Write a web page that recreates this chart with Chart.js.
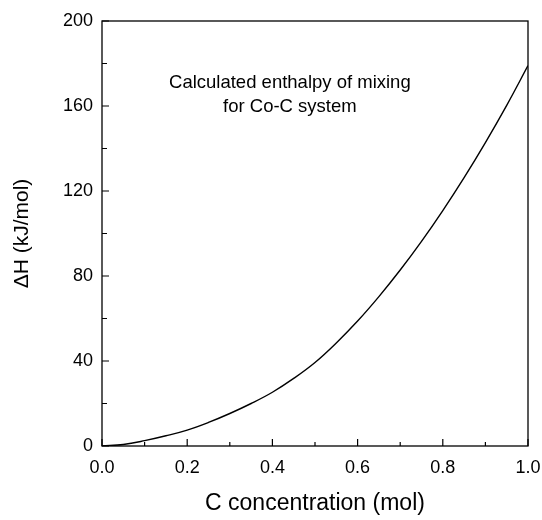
<!DOCTYPE html>
<html>
<head>
<meta charset="utf-8">
<script src="https://cdn.jsdelivr.net/npm/chart.js@4.4.1/dist/chart.umd.min.js"></script>
<style>
  html, body { margin: 0; padding: 0; background: #fff; }
  #wrap { width: 542px; height: 520px; }
</style>
</head>
<body>
<div id="wrap"><canvas id="grafico" width="542" height="520"></canvas></div>
<script>
// concentração de C (mol) e entalpia de mistura (kJ/mol)
const concentracao = [0, 0.05, 0.1, 0.15, 0.2, 0.25, 0.3, 0.35, 0.4, 0.45, 0.5,
    0.55, 0.6, 0.65, 0.7, 0.75, 0.8, 0.85, 0.9, 0.95, 1.0];
const entalpia = [0, 0.7, 2.5, 4.8, 7.5, 11.1, 15.3, 20, 25.3, 31.8, 39.3,
    48.5, 58.8, 70.3, 82.8, 96.3, 110.8, 126.3, 142.8, 160.3, 179];

const ticksX = [0, 0.2, 0.4, 0.6, 0.8, 1.0];
const ticksY = [0, 40, 80, 120, 160, 200];
const ticksMenoresX = [0.1, 0.3, 0.5, 0.7, 0.9];
const ticksMenoresY = [20, 60, 100, 140, 180];

const anotacao = ['Calculated enthalpy of mixing', 'for Co-C system'];
const anotacaoX = 0.441;
const anotacaoY = [171, 159.5];

const fonte = '"Liberation Sans", Arial, sans-serif';

//desenha moldura, ticks para dentro e o texto
const molduraPlugin = {
    id: 'moldura',
    afterDraw(chart) {
        const ctx = chart.ctx;
        const a = chart.chartArea;
        const sx = chart.scales.x;
        const sy = chart.scales.y;
        ctx.save();
        ctx.strokeStyle = '#000';
        ctx.lineWidth = 1.3;
        ctx.strokeRect(a.left, a.top, a.right - a.left, a.bottom - a.top);

        ctx.lineWidth = 1.2;
        ctx.beginPath();
        ticksX.forEach(v => {
            const px = sx.getPixelForValue(v);
            ctx.moveTo(px, a.bottom); ctx.lineTo(px, a.bottom - 7);
        });
        ticksMenoresX.forEach(v => {
            const px = sx.getPixelForValue(v);
            ctx.moveTo(px, a.bottom); ctx.lineTo(px, a.bottom - 4);
        });
        ticksY.forEach(v => {
            const py = sy.getPixelForValue(v);
            ctx.moveTo(a.left, py); ctx.lineTo(a.left + 7, py);
        });
        ticksMenoresY.forEach(v => {
            const py = sy.getPixelForValue(v);
            ctx.moveTo(a.left, py); ctx.lineTo(a.left + 5, py);
        });
        ctx.stroke();

        ctx.fillStyle = '#000';
        ctx.font = '18.5px ' + fonte;
        ctx.textAlign = 'center';
        ctx.textBaseline = 'middle';
        anotacao.forEach((t, i) => {
            ctx.fillText(t, sx.getPixelForValue(anotacaoX), sy.getPixelForValue(anotacaoY[i]));
        });
        ctx.restore();
    }
};

const chart = new Chart(document.getElementById('grafico'), {
    type: 'line',
    data: {
        labels: concentracao,
        datasets: [{
            label: 'ΔH',
            data: concentracao.map((c, i) => ({ x: c, y: entalpia[i] })),
            borderColor: '#000',
            borderWidth: 1.4,
            pointRadius: 0,
            fill: false,
            tension: 0.4
        }]
    },
    options: {
        responsive: false,
        animation: false,
        layout: { padding: { top: 21, right: 14, left: 0, bottom: 0 } },
        plugins: { legend: { display: false }, tooltip: { enabled: false } },
        scales: {
            x: {
                type: 'linear',
                min: 0,
                max: 1,
                afterFit(scale) {
                    scale.height = 74;
                    scale.paddingLeft = 0;
                    scale.paddingRight = 0;
                },
                afterBuildTicks(scale) { scale.ticks = ticksX.map(v => ({ value: v })); },
                grid: { display: false, drawTicks: false },
                border: { display: false },
                ticks: {
                    color: '#000',
                    padding: 11,
                    maxRotation: 0,
                    font: { family: fonte, size: 18 },
                    callback: v => v.toFixed(1)
                },
                title: {
                    display: true,
                    text: 'C concentration (mol)',
                    color: '#000',
                    font: { family: fonte, size: 23 },
                    padding: { top: 0, bottom: 3 }
                }
            },
            y: {
                min: 0,
                max: 200,
                afterFit(scale) {
                    scale.width = 102;
                    scale.paddingTop = 0;
                    scale.paddingBottom = 0;
                },
                afterBuildTicks(scale) { scale.ticks = ticksY.map(v => ({ value: v })); },
                grid: { display: false, drawTicks: false },
                border: { display: false },
                ticks: {
                    color: '#000',
                    padding: 9,
                    font: { family: fonte, size: 18 }
                },
                title: {
                    display: true,
                    text: 'ΔH (kJ/mol)',
                    color: '#000',
                    font: { family: fonte, size: 21 },
                    padding: { top: 10, bottom: 0 }
                }
            }
        }
    },
    plugins: [molduraPlugin]
});
</script>
</body>
</html>
